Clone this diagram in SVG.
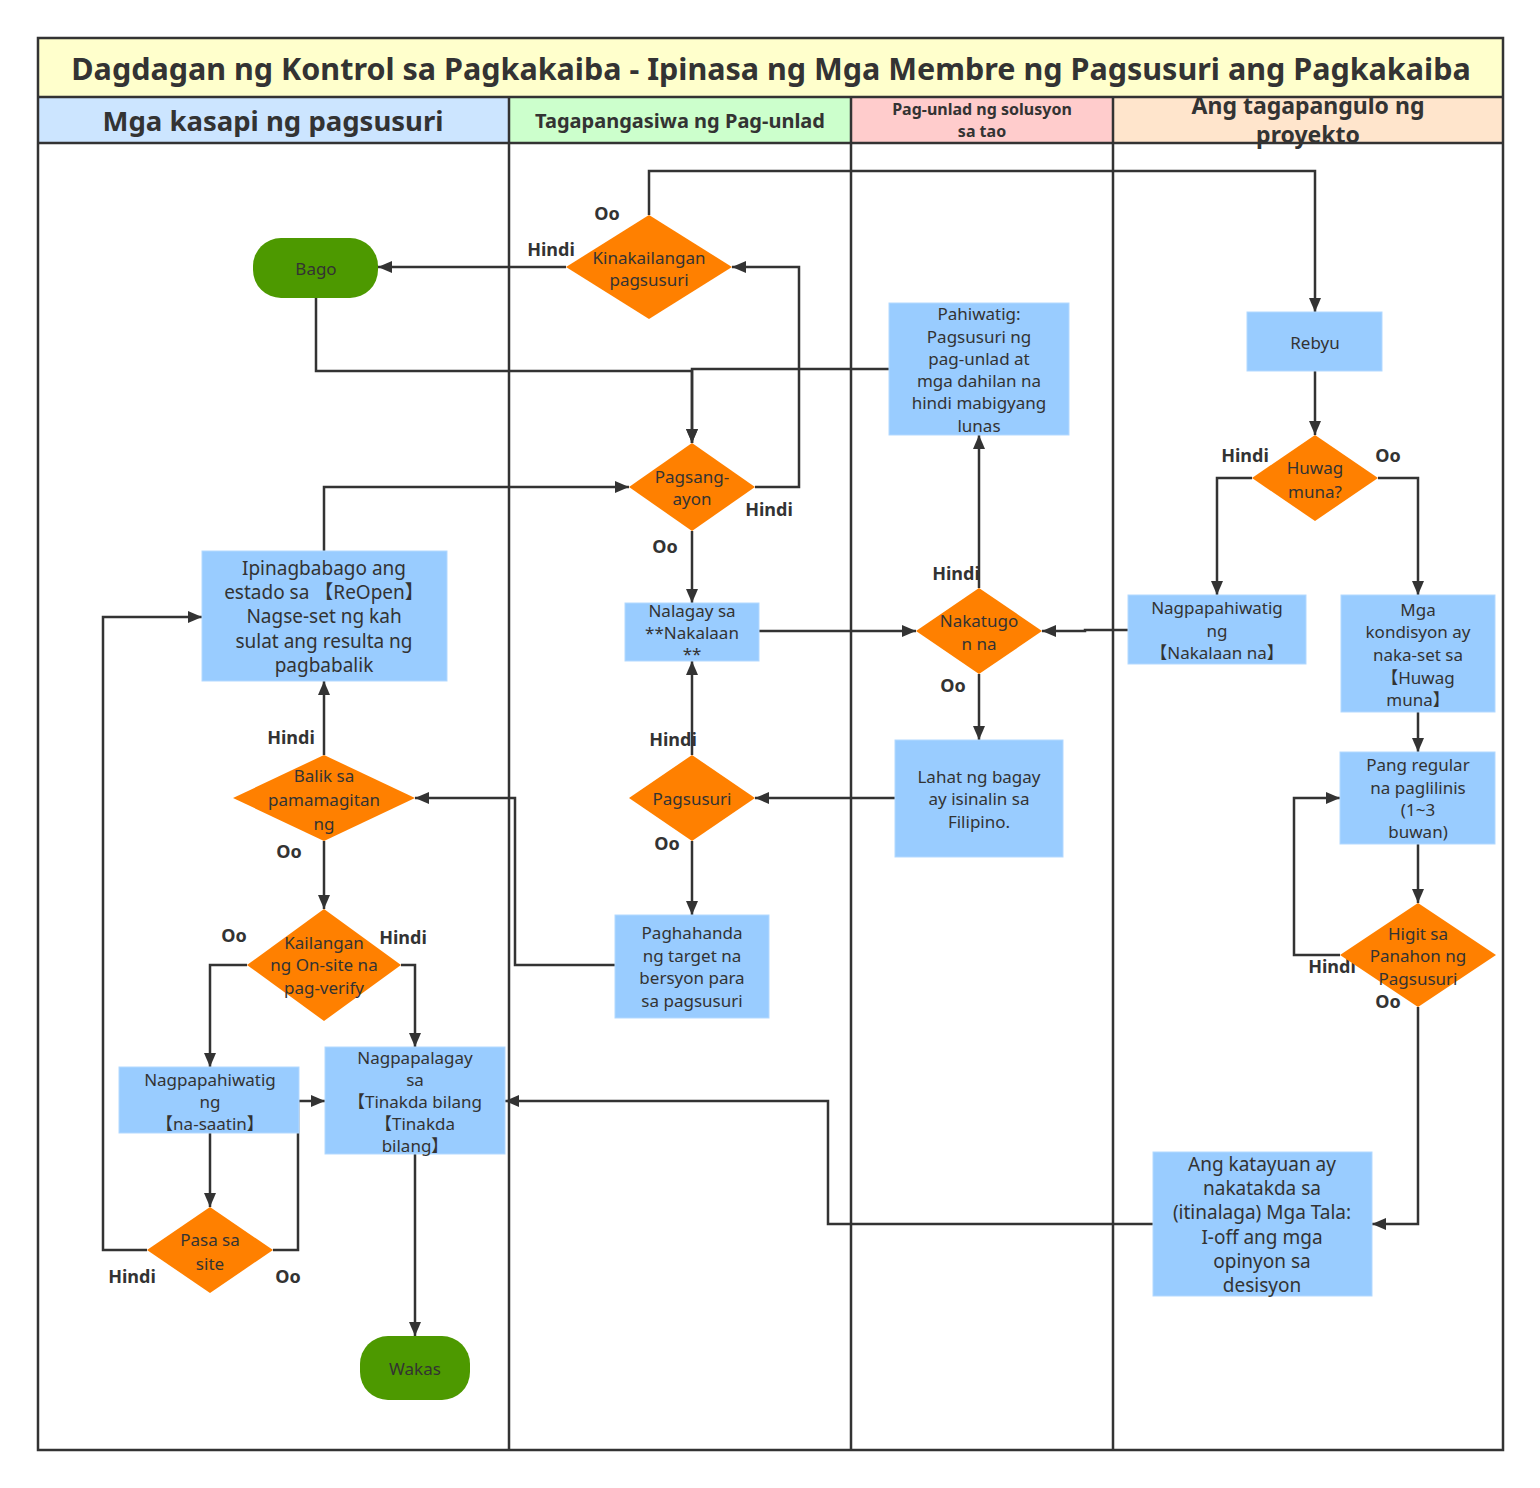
<svg xmlns="http://www.w3.org/2000/svg" width="1540" height="1488" viewBox="0 0 1540 1488">
<defs>
<marker id="ah" markerUnits="userSpaceOnUse" markerWidth="14" markerHeight="12" viewBox="0 0 14 12" refX="14" refY="6" orient="auto">
<path d="M0,0 L14,6 L0,12 z" fill="#333"/>
</marker>
<style>
.lane{stroke:#333;stroke-width:2.5;fill:none}
.c{stroke:#333;stroke-width:2.5;fill:none;marker-end:url(#ah)}
.box{fill:#99CCFF;stroke:#B3D9FF;stroke-width:1}
.dia{fill:#FF8000}
.term{fill:#4D9900}
.t{font-family:"Noto Sans","Noto Sans CJK SC",sans-serif;font-size:17px;fill:#333;text-anchor:middle;dominant-baseline:central}
.t19{font-size:19px}
.lb{font-family:"Noto Sans",sans-serif;font-size:18px;font-weight:bold;fill:#333;text-anchor:middle;dominant-baseline:central}
.h{font-family:"Noto Sans",sans-serif;font-weight:bold;fill:#333;text-anchor:middle;dominant-baseline:central}
</style>
</defs>
<rect x="0" y="0" width="1540" height="1488" fill="#fff"/>
<g id="pool">
<rect x="38" y="38" width="1465" height="59" fill="#FFFFCC"/>
<rect x="38" y="97" width="471" height="46" fill="#CCE5FF"/>
<rect x="509" y="97" width="342" height="46" fill="#CCFFCC"/>
<rect x="851" y="97" width="262" height="46" fill="#FFCCCC"/>
<rect x="1113" y="97" width="390" height="46" fill="#FFE5CC"/>
<rect x="38" y="38" width="1465" height="1412" class="lane"/>
<line x1="38" y1="97" x2="1503" y2="97" class="lane"/>
<line x1="38" y1="143" x2="1503" y2="143" class="lane"/>
<line x1="509" y1="97" x2="509" y2="1450" class="lane"/>
<line x1="851" y1="97" x2="851" y2="1450" class="lane"/>
<line x1="1113" y1="97" x2="1113" y2="1450" class="lane"/>
<text class="h" x="771" y="68" font-size="30.5">Dagdagan ng Kontrol sa Pagkakaiba - Ipinasa ng Mga Membre ng Pagsusuri ang Pagkakaiba</text>
<text class="h" x="273" y="120" font-size="27.5">Mga kasapi ng pagsusuri</text>
<text class="h" x="680" y="120" font-size="20">Tagapangasiwa ng Pag-unlad</text>
<text class="h" x="982" y="109" font-size="16">Pag-unlad ng solusyon</text>
<text class="h" x="982" y="131" font-size="16">sa tao</text>
<text class="h" x="1308" y="105" font-size="23">Ang tagapangulo ng</text>
<text class="h" x="1308" y="134" font-size="23">proyekto</text>
</g>
<g id="connectors">
<path class="c" d="M649,215 V171 H1315 V312"/>
<path class="c" d="M566,267 H378"/>
<path class="c" d="M316,298 V371 H692 V443"/>
<path class="c" d="M889,369 H692 V443"/>
<path class="c" d="M755,487 H799 V267 H732"/>
<path class="c" d="M692,531 V603"/>
<path class="c" d="M324,551 V487 H629"/>
<path class="c" d="M1315,371 V435"/>
<path class="c" d="M1252,478 H1217 V595"/>
<path class="c" d="M1378,478 H1418 V595"/>
<path class="c" d="M1128,630 H1085 V631 H1042"/>
<path class="c" d="M759,631 H916"/>
<path class="c" d="M979,588 V435"/>
<path class="c" d="M979,674 V740"/>
<path class="c" d="M895,798 H755"/>
<path class="c" d="M692,755 V661"/>
<path class="c" d="M692,841 V915"/>
<path class="c" d="M615,965 H515 V798 H415"/>
<path class="c" d="M324,755 V681"/>
<path class="c" d="M324,841 V909"/>
<path class="c" d="M247,965 H210 V1067"/>
<path class="c" d="M401,965 H415 V1047"/>
<path class="c" d="M210,1133 V1207"/>
<path class="c" d="M147,1250 H103 V617 H202"/>
<path class="c" d="M273,1250 H298 V1101 H325"/>
<path class="c" d="M415,1154 V1336"/>
<path class="c" d="M1418,712 V752"/>
<path class="c" d="M1418,844 V903"/>
<path class="c" d="M1340,955 H1294 V798 H1340"/>
<path class="c" d="M1418,1007 V1224 H1372"/>
<path class="c" d="M1153,1224 H828 V1101 H505"/>
<text class="lb" x="607" y="213">Oo</text>
<text class="lb" x="551" y="249">Hindi</text>
<text class="lb" x="769" y="509">Hindi</text>
<text class="lb" x="665" y="546">Oo</text>
<text class="lb" x="1245" y="455">Hindi</text>
<text class="lb" x="1388" y="455">Oo</text>
<text class="lb" x="956" y="573">Hindi</text>
<text class="lb" x="953" y="685">Oo</text>
<text class="lb" x="673" y="739">Hindi</text>
<text class="lb" x="667" y="843">Oo</text>
<text class="lb" x="291" y="737">Hindi</text>
<text class="lb" x="289" y="851">Oo</text>
<text class="lb" x="234" y="935">Oo</text>
<text class="lb" x="403" y="937">Hindi</text>
<text class="lb" x="132" y="1276">Hindi</text>
<text class="lb" x="288" y="1276">Oo</text>
<text class="lb" x="1332" y="966">Hindi</text>
<text class="lb" x="1388" y="1001">Oo</text>
</g>
<g id="n-bago">
<rect class="term" x="253" y="238" width="125" height="60" rx="28"/>
<text class="t" x="316" y="268" font-size="19">Bago</text>
</g>
<g id="n-kinakailangan">
<polygon class="dia" points="649,215 732,267 649,319 566,267"/>
<text class="t" x="649" y="257">Kinakailangan</text>
<text class="t" x="649" y="279">pagsusuri</text>
</g>
<g id="n-pahiwatig">
<rect class="box" x="889" y="303" width="180" height="132"/>
<text class="t" x="979" y="313">Pahiwatig:</text>
<text class="t" x="979" y="336">Pagsusuri ng</text>
<text class="t" x="979" y="358">pag-unlad at</text>
<text class="t" x="979" y="380">mga dahilan na</text>
<text class="t" x="979" y="402">hindi mabigyang</text>
<text class="t" x="979" y="425">lunas</text>
</g>
<g id="n-rebyu">
<rect class="box" x="1247" y="312" width="135" height="59"/>
<text class="t" x="1315" y="342" font-size="18">Rebyu</text>
</g>
<g id="n-huwag">
<polygon class="dia" points="1315,435 1378,478 1315,521 1252,478"/>
<text class="t" x="1315" y="467" font-size="18">Huwag</text>
<text class="t" x="1315" y="491" font-size="18">muna?</text>
</g>
<g id="n-pagsangayon">
<polygon class="dia" points="692,443 755,487 692,531 629,487"/>
<text class="t" x="692" y="476">Pagsang-</text>
<text class="t" x="692" y="498">ayon</text>
</g>
<g id="n-ipinagbabago">
<rect class="box" x="202" y="551" width="245" height="130"/>
<text class="t t19" x="324" y="568">Ipinagbabago ang</text>
<text class="t t19" x="324" y="592">estado sa 【ReOpen】</text>
<text class="t t19" x="324" y="616">Nagse-set ng kah</text>
<text class="t t19" x="324" y="641">sulat ang resulta ng</text>
<text class="t t19" x="324" y="665">pagbabalik</text>
</g>
<g id="n-nalagay">
<rect class="box" x="625" y="603" width="134" height="58"/>
<text class="t" x="692" y="610">Nalagay sa</text>
<text class="t" x="692" y="632">**Nakalaan</text>
<text class="t" x="692" y="653" font-size="14">**</text>
</g>
<g id="n-nakatugon">
<polygon class="dia" points="979,588 1042,631 979,674 916,631"/>
<text class="t" x="979" y="620">Nakatugo</text>
<text class="t" x="979" y="643">n na</text>
</g>
<g id="n-nakalaan">
<rect class="box" x="1128" y="595" width="178" height="69"/>
<text class="t" x="1217" y="607">Nagpapahiwatig</text>
<text class="t" x="1217" y="630">ng</text>
<text class="t" x="1217" y="652">【Nakalaan na】</text>
</g>
<g id="n-kondisyon">
<rect class="box" x="1341" y="595" width="154" height="117"/>
<text class="t" x="1418" y="609">Mga</text>
<text class="t" x="1418" y="631">kondisyon ay</text>
<text class="t" x="1418" y="654">naka-set sa</text>
<text class="t" x="1418" y="677">【Huwag</text>
<text class="t" x="1418" y="699">muna】</text>
</g>
<g id="n-pangregular">
<rect class="box" x="1340" y="752" width="155" height="92"/>
<text class="t" x="1418" y="764">Pang regular</text>
<text class="t" x="1418" y="787">na paglilinis</text>
<text class="t" x="1418" y="809">(1~3</text>
<text class="t" x="1418" y="831">buwan)</text>
</g>
<g id="n-higit">
<polygon class="dia" points="1418,903 1496,955 1418,1007 1340,955"/>
<text class="t" x="1418" y="933">Higit sa</text>
<text class="t" x="1418" y="955">Panahon ng</text>
<text class="t" x="1418" y="978">Pagsusuri</text>
</g>
<g id="n-balik">
<polygon class="dia" points="324,755 415,798 324,841 233,798"/>
<text class="t" x="324" y="775" font-size="18">Balik sa</text>
<text class="t" x="324" y="799" font-size="18">pamamagitan</text>
<text class="t" x="324" y="823" font-size="18">ng</text>
</g>
<g id="n-pagsusuri">
<polygon class="dia" points="692,755 755,798 692,841 629,798"/>
<text class="t" x="692" y="798" font-size="18">Pagsusuri</text>
</g>
<g id="n-lahat">
<rect class="box" x="895" y="740" width="168" height="117"/>
<text class="t" x="979" y="776">Lahat ng bagay</text>
<text class="t" x="979" y="798">ay isinalin sa</text>
<text class="t" x="979" y="821">Filipino.</text>
</g>
<g id="n-paghahanda">
<rect class="box" x="615" y="915" width="154" height="103"/>
<text class="t" x="692" y="932">Paghahanda</text>
<text class="t" x="692" y="955">ng target na</text>
<text class="t" x="692" y="977">bersyon para</text>
<text class="t" x="692" y="1000">sa pagsusuri</text>
</g>
<g id="n-kailangan">
<polygon class="dia" points="324,909 401,965 324,1021 247,965"/>
<text class="t" x="324" y="942">Kailangan</text>
<text class="t" x="324" y="964">ng On-site na</text>
<text class="t" x="324" y="987">pag-verify</text>
</g>
<g id="n-nasaatin">
<rect class="box" x="119" y="1067" width="180" height="66"/>
<text class="t" x="210" y="1079">Nagpapahiwatig</text>
<text class="t" x="210" y="1101">ng</text>
<text class="t" x="210" y="1123">【na-saatin】</text>
</g>
<g id="n-nagpapalagay">
<rect class="box" x="325" y="1047" width="180" height="107"/>
<text class="t" x="415" y="1057">Nagpapalagay</text>
<text class="t" x="415" y="1079">sa</text>
<text class="t" x="415" y="1101">【Tinakda bilang</text>
<text class="t" x="415" y="1123">【Tinakda</text>
<text class="t" x="415" y="1145">bilang】</text>
</g>
<g id="n-pasa">
<polygon class="dia" points="210,1207 273,1250 210,1293 147,1250"/>
<text class="t" x="210" y="1239" font-size="18">Pasa sa</text>
<text class="t" x="210" y="1263" font-size="18">site</text>
</g>
<g id="n-wakas">
<rect class="term" x="360" y="1336" width="110" height="64" rx="28"/>
<text class="t" x="415" y="1368" font-size="19">Wakas</text>
</g>
<g id="n-katayuan">
<rect class="box" x="1153" y="1152" width="219" height="144"/>
<text class="t t19" x="1262" y="1164">Ang katayuan ay</text>
<text class="t t19" x="1262" y="1188">nakatakda sa</text>
<text class="t t19" x="1262" y="1212">(itinalaga) Mga Tala:</text>
<text class="t t19" x="1262" y="1237">I-off ang mga</text>
<text class="t t19" x="1262" y="1261">opinyon sa</text>
<text class="t t19" x="1262" y="1285">desisyon</text>
</g>
</svg>
